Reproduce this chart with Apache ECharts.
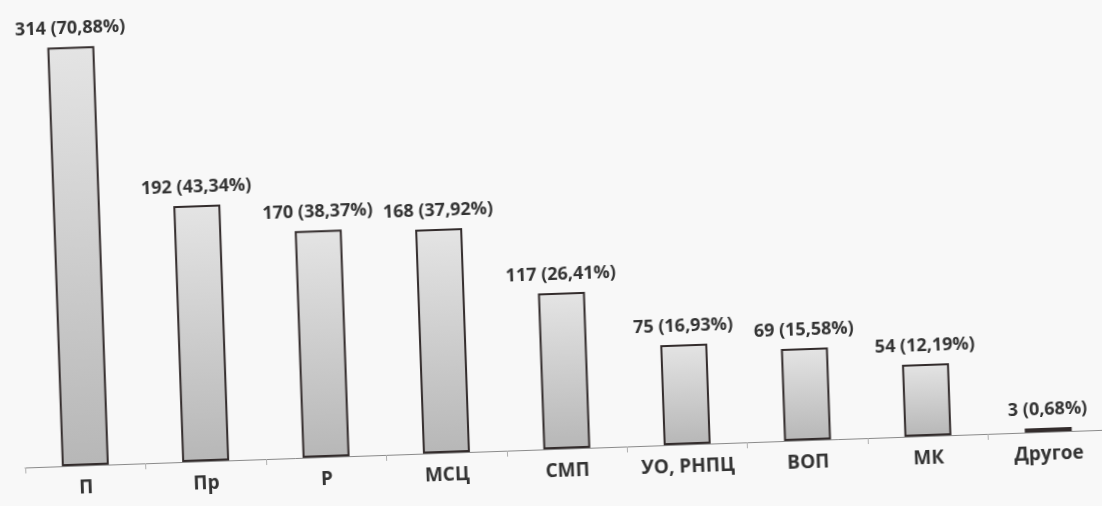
<!DOCTYPE html>
<html>
<head>
<meta charset="utf-8">
<script src="https://cdn.jsdelivr.net/npm/echarts@6/dist/echarts.min.js"></script>
<style>
html,body{margin:0;padding:0;background:#f8f8f8;overflow:hidden;}
#chart{width:1102px;height:506px;transform:rotate(-2deg);transform-origin:551px 253px;}
</style>
</head>
<body>
<div id="chart"></div>
<script>
const categories = ['П', 'Пр', 'Р', 'МСЦ', 'СМП', 'УО, РНПЦ', 'ВОП', 'МК', 'Другое'];
const counts = [314, 192, 170, 168, 117, 75, 69, 54, 3];
const percents = ['70,88%', '43,34%', '38,37%', '37,92%', '26,41%', '16,93%', '15,58%', '12,19%', '0,68%'];

const chart = echarts.init(document.getElementById('chart'), null, {renderer: 'canvas'});
chart.setOption({
  backgroundColor: 'transparent',
  animation: false,
  grid: {left: 18, width: 1086, top: 9, bottom: 57, containLabel: false},
  xAxis: {
    type: 'category',
    data: categories,
    boundaryGap: true,
    axisLine: {show: true, lineStyle: {color: '#8a8a8a', width: 1}},
    axisTick: {show: true, alignWithLabel: false, length: 6, lineStyle: {color: '#b0b0b0'}},
    axisLabel: {
      margin: 13, color: '#333', fontFamily: 'Open Sans', fontWeight: 'bold', fontSize: 19, interval: 0
    }
  },
  yAxis: {
    type: 'value', min: 0, max: 330, show: false, splitLine: {show: false}
  },
  series: [{
    type: 'bar',
    data: counts,
    barWidth: 47,
    itemStyle: {
      borderColor: '#332c2c',
      borderWidth: 2,
      color: new echarts.graphic.LinearGradient(0, 0, 0, 1, [
        {offset: 0, color: '#e4e4e4'},
        {offset: 1, color: '#b7b7b7'}
      ])
    },
    label: {
      show: true,
      position: 'top',
      distance: 9,
      color: '#333',
      fontFamily: 'Open Sans',
      fontWeight: 'bold',
      fontSize: 18,
      formatter: function (p) { return counts[p.dataIndex] + ' (' + percents[p.dataIndex] + ')'; }
    }
  }]
});
</script>
</body>
</html>
